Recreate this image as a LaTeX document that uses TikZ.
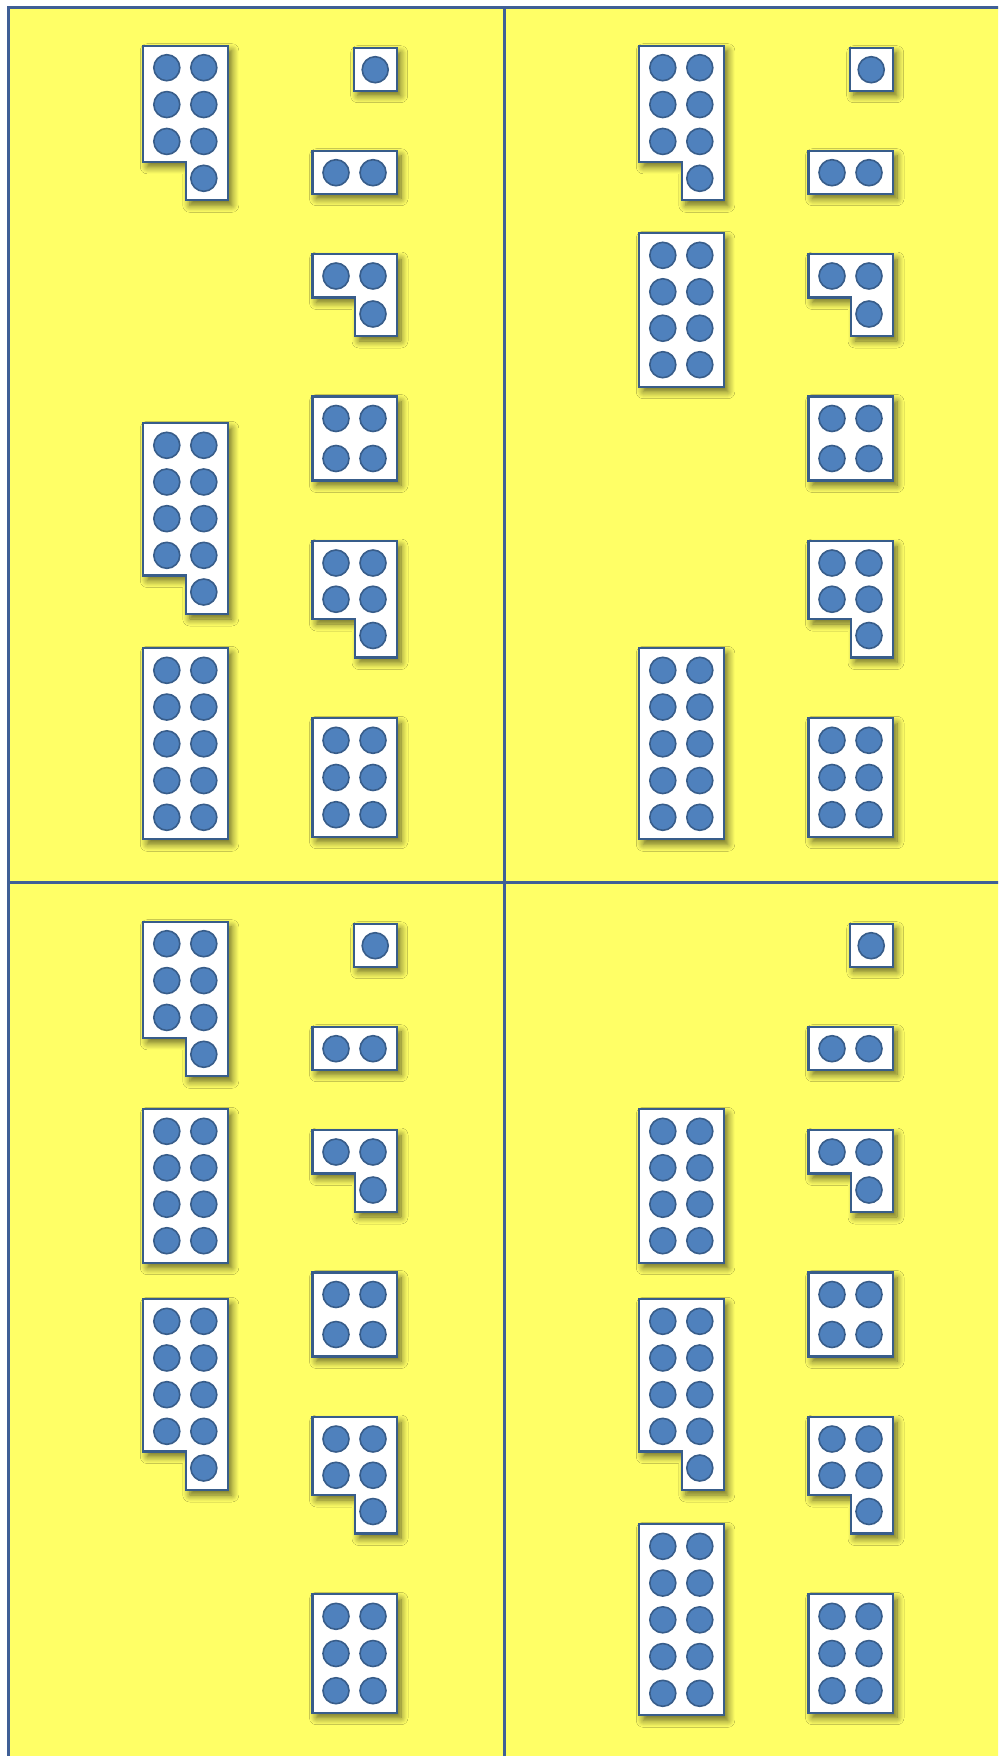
\documentclass[tikz,border=0pt]{standalone}
\usetikzlibrary{shadows.blur}
\definecolor{bgyellow}{HTML}{FFFF66}
\definecolor{framecol}{HTML}{3F5F96}
\definecolor{dotfill}{HTML}{4F81BD}
\definecolor{dotline}{HTML}{385D8A}
\tikzset{
 tilestyle/.style={fill=white, draw=dotline, line width=1.1pt, line join=miter,
   blur shadow={shadow xshift=2pt, shadow yshift=-2.5pt, shadow blur radius=3.5pt, shadow blur steps=8, shadow opacity=60}},
 dotstyle/.style={fill=dotfill, draw=dotline, line width=0.8pt},
 framestyle/.style={draw=framecol, line width=1.5pt}
}
% #1 x, #2 y (top-left, px), #3 height, #4 rows, #5 type (0 rect, 1 L-shape, 2 single)
\newcommand\dottile[5]{%
 \begin{scope}[shift={(#1,#2)}]
  \pgfmathsetmacro\hh{#3}
  \ifcase#5
    \path[tilestyle] (0,0) rectangle (84.5,\hh);
  \or
    \path[tilestyle] (0,0) -- (84.5,0) -- (84.5,\hh) -- (42.5,\hh) -- (42.5,\hh-38.5) -- (0,\hh-38.5) -- cycle;
  \or
    \path[tilestyle] (0,0) rectangle (43,\hh);
  \fi
  \foreach \k in {1,...,#4}{
    \pgfmathsetmacro\yy{22+(\k-1)*(\hh-44)/max(#4-1,1)}
    \ifnum#5=2
      \path[dotstyle] (21.5,\yy) circle[radius=13];
    \else
      \path[dotstyle] (60.5,\yy) circle[radius=13];
      \ifnum\k<#4
        \path[dotstyle] (23.5,\yy) circle[radius=13];
      \else
        \ifnum#5=0 \path[dotstyle] (23.5,\yy) circle[radius=13];\fi
      \fi
    \fi
  }
 \end{scope}}
\newcommand\quadrant[3]{%
 \begin{scope}[shift={(#1,#2)}]
  \dottile{353.7}{47.7}{43}{1}{2}
  \dottile{312.5}{150.7}{43}{1}{0}
  \dottile{312.5}{254}{82}{2}{1}
  \dottile{312.5}{396.5}{84}{2}{0}
  \dottile{312.5}{541}{116.5}{3}{1}
  \dottile{312.5}{718.3}{118.4}{3}{0}
  #3
 \end{scope}}
\newcommand\tileseven{\dottile{143.3}{45.7}{154.6}{4}{1}}
\newcommand\tileeight{\dottile{143.3}{233.3}{153.4}{4}{0}}
\newcommand\tilenine{\dottile{143.3}{423.3}{190.7}{5}{1}}
\newcommand\tileten{\dottile{143.3}{648.3}{191}{5}{0}}
\begin{document}
\begin{tikzpicture}[x=0.5pt,y=-0.5pt]
 \useasboundingbox (0,0) rectangle (998,1756);
 \clip (0,0) rectangle (998,1756);
 \fill[white] (0,0) rectangle (998,1756);
 \path[fill=bgyellow, framestyle] (8.5,7) rectangle (1010,1770);
 \draw[framestyle] (504,7) -- (504,1770);
 \draw[framestyle] (8.5,882) -- (1010,882);
 \quadrant{0}{0}{\tileseven\tilenine\tileten}
 \quadrant{496}{0}{\tileseven\tileeight\tileten}
 \quadrant{0}{876}{\tileseven\tileeight\tilenine}
 \quadrant{496}{876}{\tileeight\tilenine\tileten}
\end{tikzpicture}
\end{document}
